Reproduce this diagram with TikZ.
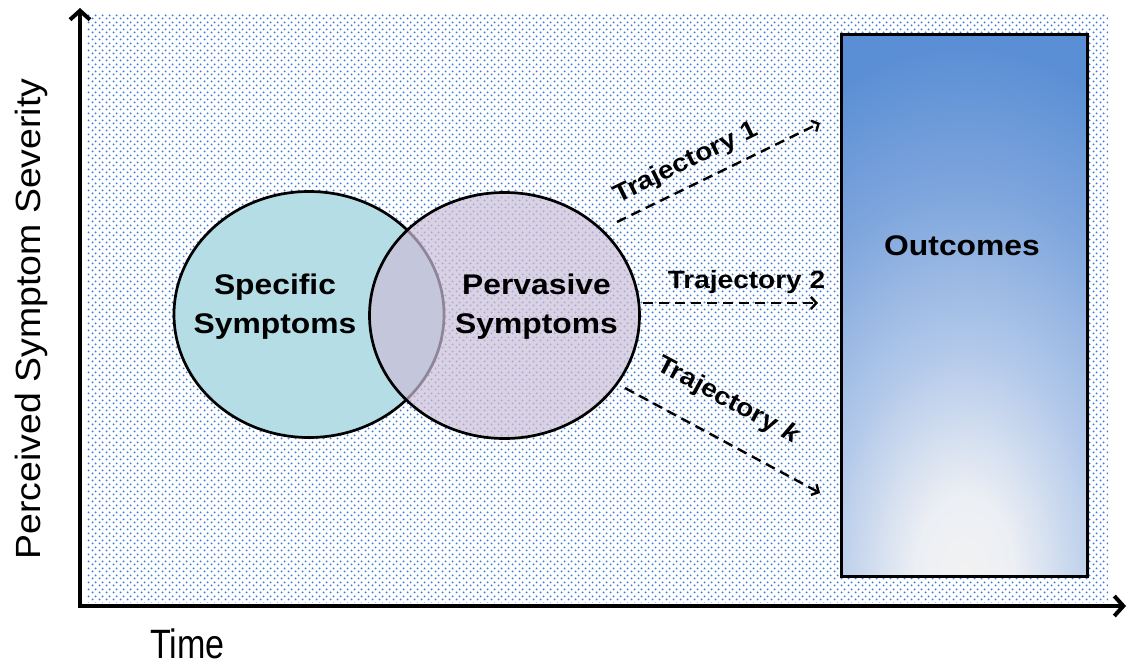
\documentclass[tikz,border=0pt]{standalone}
\usepackage{fontspec}
\usepackage{graphicx}
\setmainfont{Liberation Sans}
\usetikzlibrary{arrows.meta,shapes.geometric,patterns.meta}
\definecolor{dotblue}{HTML}{3F7DDC}
\definecolor{specfill}{HTML}{B4DDE6}
\definecolor{pervfill}{HTML}{CBBFD8}
\definecolor{oc0}{HTML}{F2F2F2}
\definecolor{oc1}{HTML}{ECEFF4}
\definecolor{oc2}{HTML}{B3C9EA}
\definecolor{oc3}{HTML}{7FA6DD}
\definecolor{oc4}{HTML}{5B8FD5}
\definecolor{oc5}{HTML}{5589D2}
\pgfdeclareradialshading{outshade}{\pgfpoint{0bp}{0bp}}{color(0bp)=(oc0); color(2.5bp)=(oc1); color(7bp)=(oc2); color(12bp)=(oc3); color(16.5bp)=(oc4); color(25bp)=(oc5); color(50bp)=(oc5)}
\tikzdeclarepattern{
  name=bgdots,
  type=uncolored,
  bounding box={(0pt,0pt) and (7pt,7pt)},
  tile size={(7pt,7pt)},
  code={\fill (1.75pt,1.75pt) circle (1.15pt); \fill (5.25pt,5.25pt) circle (1.15pt);}
}
\newcommand\stretchx[1]{\scalebox{1.12}[1]{#1}}
\begin{document}
\begin{tikzpicture}[x=1pt,y=-1pt,
  boldlabel/.style={inner sep=0pt, align=center, font={\fontsize{28.4}{39}\selectfont\bfseries}},
  trajlabel/.style={inner sep=0pt, font={\fontsize{25}{30}\selectfont\bfseries}},
  venn/.style={ellipse, draw=black, line width=2.7pt, inner sep=0pt, minimum width=270pt, minimum height=246pt},
  traj/.style={draw=black, line width=2.4pt, dash pattern=on 10pt off 6pt, -{Straight Barb[length=5.5pt,width=12pt]}},
  axisline/.style={draw=black, line width=4pt, line join=miter, {Straight Barb[length=9pt,width=20pt]}-{Straight Barb[length=9pt,width=20pt]}},
  outbox/.style={draw=black, line width=3.2pt, minimum width=246pt, minimum height=542pt, inner sep=0pt,
    path picture={\shade[shading=outshade] (path picture bounding box.south) ellipse [x radius=500pt, y radius=800pt];}}
]
\useasboundingbox (0,0) rectangle (1130,664);
\fill[white] (0,0) rectangle (1130,664);
\fill[pattern=bgdots, pattern color=dotblue] (87,13) rectangle (1108,602);

% outcomes
\node[outbox] (outcomes) at (964.5,305.5) {};
\node[boldlabel, anchor=base] (outlabel) at (962,255) {\stretchx{Outcomes}};

% venn
\node[venn, fill=specfill] (specific) at (309,314.5) {};
\node[venn, fill=pervfill, fill opacity=0.7] (pervasive) at (504.5,315.5) {};
\node[boldlabel] (spectext) at (275,307) {\stretchx{Specific}\\\stretchx{Symptoms}};
\node[boldlabel] (pervtext) at (536.5,307) {\stretchx{Pervasive}\\\stretchx{Symptoms}};

% trajectories
\coordinate (t1s) at (617,222); \coordinate (t1e) at (820,123);
\coordinate (t2s) at (643,303); \coordinate (t2e) at (818,303);
\coordinate (tks) at (625,388); \coordinate (tke) at (820,493);
\draw[traj] (t1s) -- (t1e);
\draw[traj] (t2s) -- (t2e);
\draw[traj] (tks) -- (tke);
\node[trajlabel, rotate=26] (t1label) at (686,163) {\stretchx{Trajectory 1}};
\node[trajlabel, anchor=base] (t2label) at (746.5,288) {\stretchx{Trajectory 2}};
\node[trajlabel, rotate=-28] (tklabel) at (728,401) {\stretchx{Trajectory \textit{k}}};

% axes
\coordinate (origin) at (80,606);
\coordinate (ytip) at (80,8);
\coordinate (xtip) at (1126,606);
\draw[axisline] (ytip) -- (origin) -- (xtip);
\node[inner sep=0pt, rotate=90, anchor=base, font={\fontsize{35}{40}\selectfont}] (ylabel) at (40,319) {\scalebox{1.07}[1]{Perceived Symptom Severity}};
\node[inner sep=0pt, anchor=base west, font={\fontsize{41}{45}\selectfont}] (xlabel) at (150,658) {\scalebox{0.83}[1]{Time}};
\end{tikzpicture}
\end{document}
